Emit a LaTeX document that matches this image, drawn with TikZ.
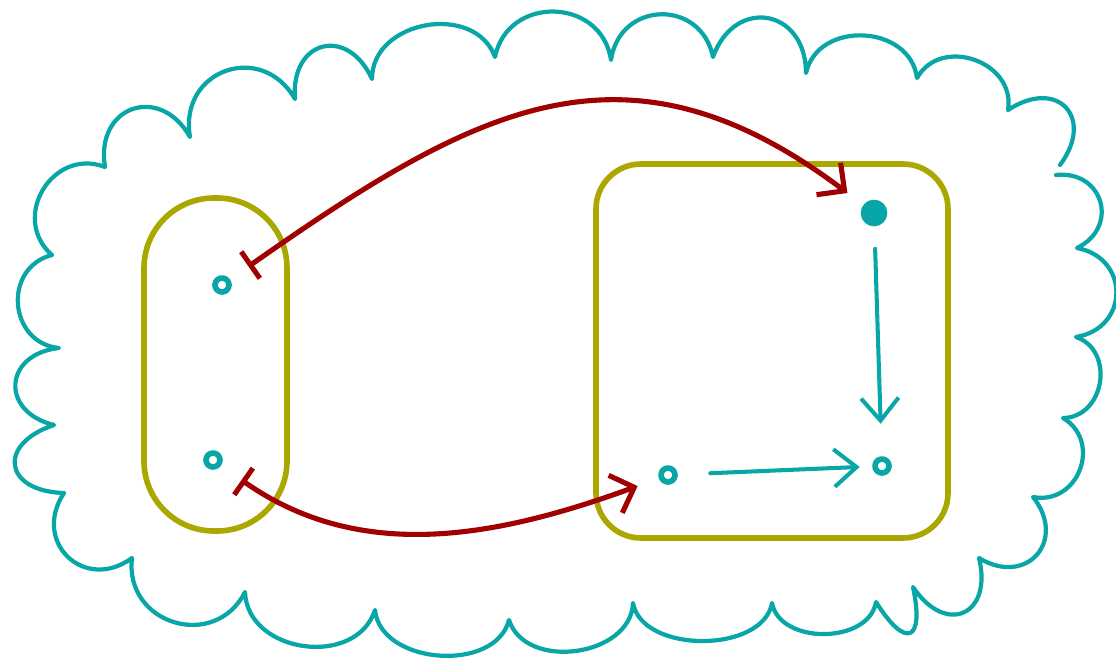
\documentclass[tikz,border=0pt]{standalone}
\usetikzlibrary{arrows.meta}
\definecolor{myteal}{RGB}{8,166,166}
\definecolor{myolive}{RGB}{170,168,0}
\definecolor{myred}{RGB}{160,0,0}

\begin{document}
\begin{tikzpicture}[x=0.02cm, y=0.02cm, line cap=round, line join=round,
  puff/.style={draw=myteal, line width=2.4pt},
  pt/.style={circle, draw=myteal, line width=3.2pt, inner sep=0pt, minimum size=0.28cm},
  box/.style={draw=myolive, line width=3.2pt},
  mapsto/.style={draw=myred, line width=2.9pt, {Bar[width=0.65cm]}-{Straight Barb[length=0.4cm,width=0.8cm]}},
  edge/.style={draw=myteal, line width=2.3pt, -{Straight Barb[length=0.45cm,width=0.75cm]}}]
  \useasboundingbox (0,0) rectangle (1116,-660);
  % Wolke (x/y der Einbuchtungen, Tiefe des Bogens)
  \draw[puff] (1056,-175) \foreach \x/\y/\l in {1077/248/1.6, 1076/337/1.55, 1063/418/1.3,
      1033/497/1.4, 979/558/1.75, 913/587/2.1, 876/602/3.6, 772/603/1.05, 633/603/0.95,
      509/620/1.1, 375/610/1.05, 245/592/1.2, 132/558/1.45, 64/493/1.6, 54/425/2.25,
      59/348/1.85, 52/255/1.4, 105/167/1.4, 190/137/1.75, 295/99/1.55, 372/79/1.9,
      495/57/1.2, 611/60/1.4, 713/57/1.5, 806/73/1.75, 917/78/1.25, 1008/110/1.3, 1060/165/2.0}
    { to[bend left=80, looseness=\l] (\x,-\y) };
  % Mengen
  \draw[box, rounded corners=1.4cm] (144,-198) rectangle (287,-531);
  \draw[box, rounded corners=0.9cm] (596,-164) rectangle (948,-538);
  % Punkte
  \node[pt] (ltop) at (222,-285) {};
  \node[pt] (lbot) at (213,-460) {};
  \node[pt, fill=myteal, minimum size=0.42cm] (rtop) at (874,-213) {};
  \node[pt] (rbl) at (668,-475) {};
  \node[pt] (rbr) at (882,-466) {};
  % Abbildung
  \draw[mapsto, shorten <=0.45cm, shorten >=0.4cm] (ltop) to[out=35, in=143, looseness=1.2] (rtop);
  \draw[mapsto, shorten <=0.5cm, shorten >=0.45cm] (lbot) to[out=-35, in=200, looseness=1] (rbl);
  % Pfeile rechts
  \draw[edge, shorten <=0.45cm, shorten >=0.65cm] (rtop) -- (rbr);
  \draw[edge, shorten <=0.65cm, shorten >=0.25cm] (rbl) -- (rbr);
\end{tikzpicture}
\end{document}
